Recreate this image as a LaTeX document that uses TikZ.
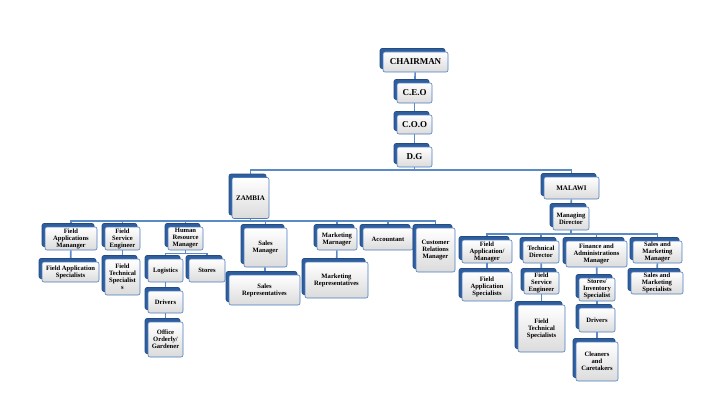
\documentclass[tikz,border=0pt]{standalone}
\usepackage{fontspec}
\setmainfont{Liberation Serif}
\usetikzlibrary{shadows}
\usetikzlibrary{backgrounds}
\definecolor{boxblue}{HTML}{4A7BC0}
\definecolor{shadowblue}{HTML}{2F5E9E}
\definecolor{lineblue}{HTML}{5B8AC9}
\tikzset{
  post/.style={draw=boxblue, line width=0.6pt, rounded corners=2pt,
    top color=white, bottom color=black!14, inner sep=0pt, align=center,
    font=\bfseries\fontsize{6.6}{7}\selectfont,
    copy shadow={shadow xshift=-3pt, shadow yshift=3.5pt, fill=shadowblue, draw=shadowblue!80!black}},
  bigpost/.style={post, font=\bfseries\fontsize{9}{10}\selectfont},
  land/.style={post, font=\bfseries\fontsize{7}{8}\selectfont},
  link/.style={lineblue, line width=1.6pt},
}
\begin{document}
\begin{tikzpicture}[x=1pt, y=1pt]
\useasboundingbox (0,0) rectangle (720,-420);
% TOP
\node[bigpost, minimum width=65, minimum height=20] (chair) at (415.5,-62) {CHAIRMAN};
\node[bigpost, minimum width=35, minimum height=20] (ceo) at (414.5,-93) {C.E.O};
\node[bigpost, minimum width=35, minimum height=19] (coo) at (414.5,-124.5) {C.O.O};
\node[bigpost, minimum width=35, minimum height=20] (dg) at (414.5,-157) {D.G};
% COUNTRIES
\node[land, minimum width=37, minimum height=41] (zambia) at (250.5,-198) {ZAMBIA};
\node[land, minimum width=55, minimum height=22] (malawi) at (571.5,-188) {MALAWI};
% ZAMBIA
\node[post, minimum width=52, minimum height=23] (zfapm) at (71,-238.5) {Field\\Applications\\Mananger};
\node[post, minimum width=57, minimum height=20] (zfas) at (70.5,-272) {Field Application\\Specialists};
\node[post, minimum width=35, minimum height=23] (zfse) at (122.5,-238.5) {Field\\Service\\Engineer};
\node[post, minimum width=35, minimum height=36] (zfts) at (122.5,-277) {Field\\Technical\\Specialist\\s};
\node[post, minimum width=35, minimum height=23] (zhrm) at (185.5,-238.5) {Human\\Resource\\Manager};
\node[post, minimum width=35, minimum height=23] (zlog) at (165.5,-270.5) {Logistics};
\node[post, minimum width=36, minimum height=23] (zsto) at (207,-270.5) {Stores};
\node[post, minimum width=35, minimum height=22] (zdrv) at (165.5,-302) {Drivers};
\node[post, minimum width=35, minimum height=35] (zoff) at (165.5,-339.5) {Office\\Orderly/\\Gardener};
\node[post, minimum width=43, minimum height=39] (zsam) at (265.5,-247.5) {Sales\\Manager};
\node[post, minimum width=71, minimum height=30] (zsar) at (264.5,-290) {Sales\\Representatives};
\node[post, minimum width=40, minimum height=22] (zmkm) at (337,-239) {Marketing\\Marnager};
\node[post, minimum width=63, minimum height=36] (zmkr) at (336.5,-280) {Marketing\\Representatives};
\node[post, minimum width=50, minimum height=22] (zacc) at (388,-239) {Accountant};
\node[post, minimum width=39, minimum height=44] (zcrm) at (435.5,-250) {Customer\\Relations\\Manager};
% MALAWI
\node[post, minimum width=36, minimum height=23] (mmd) at (571,-218.5) {Managing\\Director};
\node[post, minimum width=50, minimum height=23] (mfam) at (487,-251.5) {Field\\Application/\\Manager};
\node[post, minimum width=50, minimum height=29] (mfas) at (487,-286.5) {Field\\Application\\Specialists};
\node[post, minimum width=36, minimum height=22] (mtd) at (541,-252) {Technical\\Director};
\node[post, minimum width=35, minimum height=22] (mfse) at (541.5,-283) {Field\\Service\\Engineer};
\node[post, minimum width=47, minimum height=47] (mfts) at (541.5,-328.5) {Field\\Technical\\Specialists};
\node[post, minimum width=61, minimum height=26] (mfin) at (596.5,-254) {Finance and\\Administrations\\Manager};
\node[post, minimum width=36, minimum height=23] (msto) at (597,-289.5) {Stores/\\Inventory\\Specialist};
\node[post, minimum width=36, minimum height=24] (mdrv) at (597,-320) {Drivers};
\node[post, minimum width=42, minimum height=39] (mcle) at (597,-361.5) {Cleaners\\and\\Caretakers};
\node[post, minimum width=49, minimum height=22] (msmm) at (657.5,-252) {Sales and\\Marketing\\Manager};
\node[post, minimum width=52, minimum height=22] (msms) at (657,-283) {Sales and\\Marketing\\Specialists};
% BUS LEVELS
\coordinate (bustop) at (0,-170);
\coordinate (buszam) at (0,-221);
\coordinate (bushr) at (0,-253.5);
\coordinate (busmal) at (0,-234);
% LINKS
\begin{scope}[on background layer]
\draw[link] (chair) -- (ceo);
\draw[link] (ceo) -- (coo);
\draw[link] (coo) -- (dg);
\draw[link] (dg) -- (dg |- bustop);
\foreach \c in {zambia,malawi}
  \draw[link] (dg |- bustop) -| (\c);
\draw[link] (zambia) -- (zambia |- buszam);
\foreach \c in {zfapm,zfse,zhrm,zsam,zmkm,zacc,zcrm}
  \draw[link] (zambia |- buszam) -| (\c);
\draw[link] (zfapm) -- (zfas);
\draw[link] (zfse) -- (zfts);
\draw[link] (zhrm) -- (zhrm |- bushr);
\foreach \c in {zlog,zsto}
  \draw[link] (zhrm |- bushr) -| (\c);
\draw[link] (zlog) -- (zdrv);
\draw[link] (zdrv) -- (zoff);
\draw[link] (zsam) -- (zsar);
\draw[link] (zmkm) -- (zmkr);
\draw[link] (malawi) -- (mmd);
\draw[link] (mmd) -- (mmd |- busmal);
\foreach \c in {mfam,mtd,mfin,msmm}
  \draw[link] (mmd |- busmal) -| (\c);
\draw[link] (mfam) -- (mfas);
\draw[link] (mtd) -- (mfse);
\draw[link] (mfse) -- (mfts);
\draw[link] (mfin) -- (msto);
\draw[link] (msto) -- (mdrv);
\draw[link] (mdrv) -- (mcle);
\draw[link] (msmm) -- (msms);
\end{scope}
\end{tikzpicture}
\end{document}
